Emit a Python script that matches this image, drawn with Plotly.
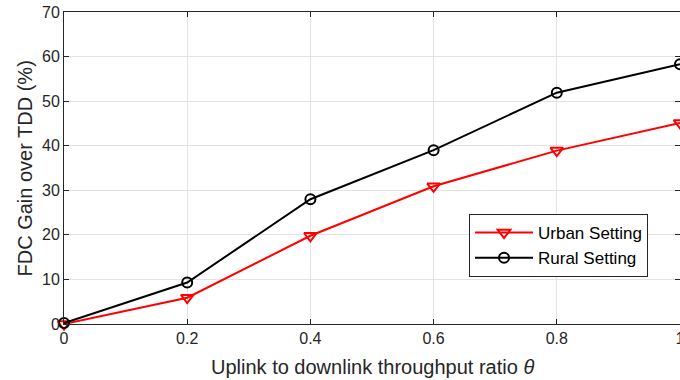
import plotly.graph_objects as go

x_vals = [0, 0.2, 0.4, 0.6, 0.8, 1.0]
urban = [0.0, 5.9, 19.8, 30.9, 38.9, 45.1]
rural = [0.2, 9.3, 28.0, 39.0, 51.9, 58.3]
x_ticks = [0, 0.2, 0.4, 0.6, 0.8, 1]
x_ticktext = ["0", "0.2", "0.4", "0.6", "0.8", "1"]
y_ticks = [0, 10, 20, 30, 40, 50, 60, 70]
x_title = "Uplink to downlink throughput ratio <i>θ</i>"
y_title = "FDC Gain over TDD (%)"

txt = "#262626"
fnt = "Liberation Sans, Arial, Helvetica, sans-serif"

fig = go.Figure()
fig.add_trace(go.Scatter(
    x=x_vals, y=urban, name="Urban Setting", mode="lines+markers",
    line=dict(color="#ff0000", width=2),
    marker=dict(symbol="triangle-down-open", size=11, color="#ff0000", line=dict(width=2)),
    cliponaxis=False,
))
fig.add_trace(go.Scatter(
    x=x_vals, y=rural, name="Rural Setting", mode="lines+markers",
    line=dict(color="#000000", width=2),
    marker=dict(symbol="circle-open", size=10, color="#000000", line=dict(width=2)),
    cliponaxis=False,
))

axis_common = dict(
    showline=True, linecolor=txt, linewidth=1, mirror="ticks",
    ticks="inside", ticklen=5, tickcolor=txt,
    showgrid=True, gridcolor="#e3e3e3", gridwidth=1,
    zeroline=False, automargin=False, ticklabeloverflow="allow",
    tickfont=dict(family=fnt, size=16, color=txt),
)

fig.update_xaxes(range=[0, 1], tickvals=x_ticks, ticktext=x_ticktext, **axis_common)
fig.update_yaxes(range=[0, 70], tickvals=y_ticks, **axis_common)

fig.add_annotation(text=x_title, xref="paper", yref="paper", x=0.5016, y=-0.138,
                   xanchor="center", yanchor="middle", showarrow=False,
                   font=dict(family=fnt, size=20, color=txt))
fig.add_annotation(text=y_title, xref="paper", yref="paper", x=-0.064, y=0.497,
                   xanchor="center", yanchor="middle", showarrow=False, textangle=-90,
                   font=dict(family=fnt, size=20, color=txt))

fig.update_layout(
    width=680, height=380,
    margin=dict(l=64, r=0, t=12, b=56),
    paper_bgcolor="white", plot_bgcolor="white",
    showlegend=True,
    legend=dict(
        x=0.6575, y=0.2516, xanchor="left", yanchor="middle",
        bgcolor="white", bordercolor=txt, borderwidth=1,
        font=dict(family=fnt, size=17, color="#000000"),
        itemwidth=58, tracegroupgap=0,
    ),
)

fig.write_html(
    "out.html",
    config=dict(displayModeBar=False),
    post_script="document.body.style.margin='0px';"
                "document.body.style.overflow='hidden';"
                "document.documentElement.style.overflow='hidden';",
)
